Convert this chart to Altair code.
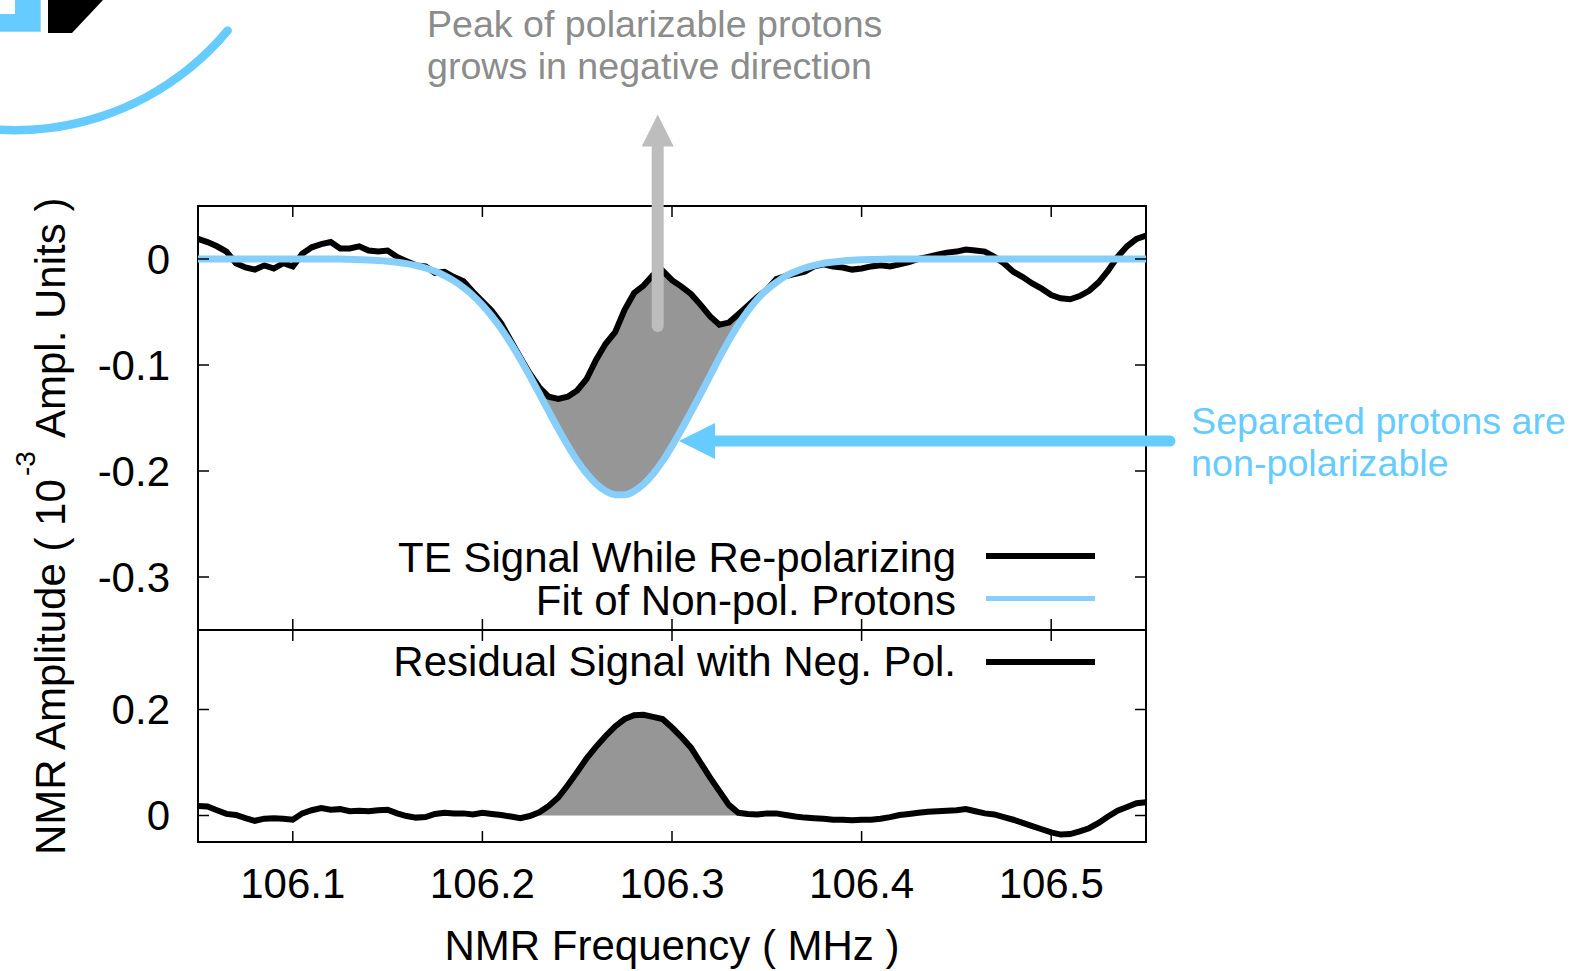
import altair as alt
import pandas as pd

# ---------------- data ----------------
FREQ = [106.050, 106.055, 106.060, 106.065, 106.070, 106.075, 106.080, 106.085, 106.090, 106.095,
        106.100, 106.105, 106.110, 106.115, 106.120, 106.125, 106.130, 106.135, 106.140, 106.145,
        106.150, 106.155, 106.160, 106.165, 106.170, 106.175, 106.180, 106.185, 106.190, 106.195,
        106.200, 106.205, 106.210, 106.215, 106.220, 106.225, 106.230, 106.235, 106.240, 106.245,
        106.250, 106.255, 106.260, 106.265, 106.270, 106.275, 106.280, 106.285, 106.290, 106.295,
        106.300, 106.305, 106.310, 106.315, 106.320, 106.325, 106.330, 106.335, 106.340, 106.345,
        106.350, 106.355, 106.360, 106.365, 106.370, 106.375, 106.380, 106.385, 106.390, 106.395,
        106.400, 106.405, 106.410, 106.415, 106.420, 106.425, 106.430, 106.435, 106.440, 106.445,
        106.450, 106.455, 106.460, 106.465, 106.470, 106.475, 106.480, 106.485, 106.490, 106.495,
        106.500, 106.505, 106.510, 106.515, 106.520, 106.525, 106.530, 106.535, 106.540, 106.545,
        106.550]

TE_SIGNAL = [0.019, 0.016, 0.012, 0.007, -0.004, -0.008, -0.010, -0.006, -0.009, -0.004,
             -0.007, 0.005, 0.011, 0.014, 0.016, 0.010, 0.010, 0.012, 0.008, 0.007,
             0.008, 0.002, -0.002, -0.006, -0.007, -0.013, -0.012, -0.017, -0.021, -0.031,
             -0.040, -0.049, -0.061, -0.077, -0.093, -0.108, -0.121, -0.130, -0.132, -0.130,
             -0.124, -0.113, -0.095, -0.080, -0.069, -0.048, -0.032, -0.025, -0.015, -0.011,
             -0.020, -0.026, -0.033, -0.043, -0.054, -0.062, -0.060, -0.052, -0.044, -0.036,
             -0.029, -0.019, -0.016, -0.014, -0.012, -0.007, -0.005, -0.007, -0.008, -0.010,
             -0.009, -0.007, -0.006, -0.007, -0.005, -0.003, 0.000, 0.002, 0.004, 0.006,
             0.007, 0.009, 0.008, 0.007, 0.002, -0.004, -0.012, -0.017, -0.023, -0.028,
             -0.034, -0.037, -0.038, -0.035, -0.030, -0.022, -0.011, 0.002, 0.012, 0.019,
             0.022]

FIT = [0, 0, 0, 0, 0, 0, 0, 0, 0, 0,
       0, 0, 0, 0, 0, 0, -0.0003, -0.0006, -0.0009, -0.0014,
       -0.0021, -0.0031, -0.0044, -0.0062, -0.0085, -0.0116, -0.0156, -0.0206, -0.0269, -0.0344,
       -0.0435, -0.0540, -0.0661, -0.0797, -0.0945, -0.1104, -0.1269, -0.1437, -0.1603, -0.1759,
       -0.1902, -0.2024, -0.2121, -0.2189, -0.2223, -0.2224, -0.2190, -0.2124, -0.2028, -0.1907,
       -0.1765, -0.1609, -0.1444, -0.1276, -0.1105, -0.0930, -0.0770, -0.0620, -0.0490, -0.0380,
       -0.0290, -0.0220, -0.0160, -0.0120, -0.0085, -0.0060, -0.0040, -0.0028, -0.0018, -0.0012,
       -0.0008, -0.0005, -0.0003, -0.0001, 0, 0, 0, 0, 0, 0,
       0, 0, 0, 0, 0, 0, 0, 0, 0, 0,
       0, 0, 0, 0, 0, 0, 0, 0, 0, 0,
       0]

RESIDUAL = [0.018, 0.017, 0.010, 0.003, 0.001, -0.005, -0.010, -0.006, -0.005, -0.006,
            -0.008, 0.004, 0.010, 0.014, 0.011, 0.012, 0.008, 0.009, 0.008, 0.010,
            0.011, 0.004, -0.001, -0.004, -0.003, 0.003, 0.005, 0.004, 0.004, 0.002,
            0.005, 0.003, 0.001, -0.002, -0.005, -0.001, 0.006, 0.018, 0.034, 0.057,
            0.082, 0.108, 0.130, 0.150, 0.168, 0.182, 0.189, 0.190, 0.186, 0.182,
            0.166, 0.148, 0.128, 0.100, 0.072, 0.046, 0.020, 0.005, 0.003, 0.002,
            0.004, 0.004, 0.001, -0.002, -0.004, -0.005, -0.006, -0.008, -0.008, -0.009,
            -0.008, -0.008, -0.006, -0.003, 0.001, 0.003, 0.005, 0.007, 0.008, 0.009,
            0.010, 0.012, 0.008, 0.004, 0.002, -0.003, -0.008, -0.014, -0.020, -0.026,
            -0.032, -0.036, -0.035, -0.030, -0.024, -0.014, -0.002, 0.009, 0.016, 0.023,
            0.025]

X_TICKS = [106.1, 106.2, 106.3, 106.4, 106.5]
X_LABELS = ["106.1", "106.2", "106.3", "106.4", "106.5"]
TOP_Y_TICKS = [0, -0.1, -0.2, -0.3]
TOP_Y_LABELS = ["0", "-0.1", "-0.2", "-0.3"]
BOT_Y_TICKS = [0, 0.2]
BOT_Y_LABELS = ["0", "0.2"]
X_TITLE = "NMR Frequency ( MHz )"
Y_TITLE_PARTS = ["NMR Amplitude ( 10", "-3", "Ampl. Units )"]
LEGEND_LABELS = ["TE Signal While Re-polarizing", "Fit of Non-pol. Protons",
                 "Residual Signal with Neg. Pol."]
NOTE_GRAY = ["Peak of polarizable protons", "grows in negative direction"]
NOTE_BLUE = ["Separated protons are", "non-polarizable"]
TOP_FILL_RANGE = [106.23, 106.345]
BOT_FILL_RANGE = [106.23, 106.335]

# ---------------- layout / style ----------------
W, H, H_TOP = 948, 636, 424
FONT = "Liberation Sans"
FS = 42
FIT_BLUE = "#87CEFA"
NOTE_BLUE_C = "#66CCFF"
ARROW_GRAY = "#BDBDBD"
TEXT_GRAY = "#8C8C8C"
FILL_GRAY = "#969696"
TICK_LEN = 11

df = pd.DataFrame({"f": FREQ, "sig": TE_SIGNAL, "fit": FIT, "res": RESIDUAL})
df_top_fill = df[(df.f >= TOP_FILL_RANGE[0] - 1e-9) & (df.f <= TOP_FILL_RANGE[1] + 1e-9)]
df_bot_fill = df[(df.f >= BOT_FILL_RANGE[0] - 1e-9) & (df.f <= BOT_FILL_RANGE[1] + 1e-9)]
df_xt = pd.DataFrame({"f": X_TICKS, "lab": X_LABELS})
df_yt_top = pd.DataFrame({"v": TOP_Y_TICKS, "lab": TOP_Y_LABELS})
df_yt_bot = pd.DataFrame({"v": BOT_Y_TICKS, "lab": BOT_Y_LABELS})
one = alt.Data(values=[{"k": 1}])

xs = alt.Scale(domain=[106.05, 106.55], nice=False, zero=False)
ys_top = alt.Scale(domain=[-0.35, 0.05], range=[H_TOP, 0], nice=False, zero=False)
ys_bot = alt.Scale(domain=[-0.05, 0.35], range=[H, H_TOP], nice=False, zero=False)

X = alt.X("f:Q", scale=xs, axis=None)
YT = lambda fld: alt.Y(fld, type="quantitative", scale=ys_top, axis=None)
YB = lambda fld: alt.Y(fld, type="quantitative", scale=ys_bot, axis=None)

def txt(**kw):
    base = dict(font=FONT, fontSize=FS, color="black")
    base.update(kw)
    return base

# ---------------- top panel ----------------
top_fill = alt.Chart(df_top_fill).mark_area(color=FILL_GRAY, opacity=1).encode(
    x=X, y=YT("fit"), y2="sig:Q")
top_sig = alt.Chart(df).mark_line(color="black", strokeWidth=6, strokeJoin="miter").encode(
    x=X, y=YT("sig"))
top_fit = alt.Chart(df).mark_line(color=FIT_BLUE, strokeWidth=7, interpolate="monotone").encode(
    x=X, y=YT("fit"))
top_xt1 = alt.Chart(df_xt).mark_rule(color="black", strokeWidth=1.5).encode(
    x=X, y=alt.value(0), y2=alt.value(TICK_LEN))
top_xt2 = alt.Chart(df_xt).mark_rule(color="black", strokeWidth=1.5).encode(
    x=X, y=alt.value(H_TOP - TICK_LEN), y2=alt.value(H_TOP))
top_yt1 = alt.Chart(df_yt_top).mark_rule(color="black", strokeWidth=1.5).encode(
    y=YT("v"), x=alt.value(0), x2=alt.value(TICK_LEN))
top_yt2 = alt.Chart(df_yt_top).mark_rule(color="black", strokeWidth=1.5).encode(
    y=YT("v"), x=alt.value(W - TICK_LEN), x2=alt.value(W))
top_ylab = alt.Chart(df_yt_top).mark_text(**txt(align="right", baseline="middle", dy=2)).encode(
    y=YT("v"), x=alt.value(-28), text="lab:N")
top = alt.layer(top_fill, top_sig, top_fit, top_xt1, top_xt2, top_yt1, top_yt2, top_ylab)

# ---------------- bottom panel ----------------
bot_fill = alt.Chart(df_bot_fill).mark_area(color=FILL_GRAY, opacity=1).encode(
    x=X, y=YB("res"), y2=alt.datum(0))
bot_res = alt.Chart(df).mark_line(color="black", strokeWidth=6, strokeJoin="miter").encode(
    x=X, y=YB("res"))
bot_xt1 = alt.Chart(df_xt).mark_rule(color="black", strokeWidth=1.5).encode(
    x=X, y=alt.value(H_TOP), y2=alt.value(H_TOP + TICK_LEN))
bot_xt2 = alt.Chart(df_xt).mark_rule(color="black", strokeWidth=1.5).encode(
    x=X, y=alt.value(H - TICK_LEN), y2=alt.value(H))
bot_yt1 = alt.Chart(df_yt_bot).mark_rule(color="black", strokeWidth=1.5).encode(
    y=YB("v"), x=alt.value(0), x2=alt.value(TICK_LEN))
bot_yt2 = alt.Chart(df_yt_bot).mark_rule(color="black", strokeWidth=1.5).encode(
    y=YB("v"), x=alt.value(W - TICK_LEN), x2=alt.value(W))
bot_ylab = alt.Chart(df_yt_bot).mark_text(**txt(align="right", baseline="middle", dy=1)).encode(
    y=YB("v"), x=alt.value(-28), text="lab:N")
xlab = alt.Chart(df_xt).mark_text(**txt(align="center", baseline="top")).encode(
    x=X, y=alt.value(H + 23), text="lab:N")
bottom = alt.layer(bot_fill, bot_res, bot_xt1, bot_xt2, bot_yt1, bot_yt2, bot_ylab, xlab)

# ---------------- axis titles, divider, legend ----------------
x_title = alt.Chart(one).mark_text(**txt(align="center", baseline="alphabetic", text=X_TITLE)).encode(
    x=alt.value(W / 2), y=alt.value(H + 118))
# y title: main text, superscript exponent, remainder (rotated, reading upward)
y_title_a = alt.Chart(one).mark_text(**txt(align="left", baseline="alphabetic", angle=270,
                                           text=Y_TITLE_PARTS[0])).encode(
    x=alt.value(-133), y=alt.value(649))
y_title_b = alt.Chart(one).mark_text(**txt(align="left", baseline="alphabetic", angle=270,
                                           fontSize=28, text=Y_TITLE_PARTS[1])).encode(
    x=alt.value(-163), y=alt.value(270))
y_title_c = alt.Chart(one).mark_text(**txt(align="left", baseline="alphabetic", angle=270,
                                           text=Y_TITLE_PARTS[2])).encode(
    x=alt.value(-133), y=alt.value(232))
divider = alt.Chart(one).mark_rule(color="black", strokeWidth=2).encode(
    x=alt.value(0), x2=alt.value(W), y=alt.value(H_TOP))

def legend_entry(label, color, sw, y_line, y_text):
    t = alt.Chart(one).mark_text(**txt(align="right", baseline="alphabetic", text=label)).encode(
        x=alt.value(758), y=alt.value(y_text))
    r = alt.Chart(one).mark_rule(color=color, strokeWidth=sw).encode(
        x=alt.value(788), x2=alt.value(897), y=alt.value(y_line))
    return [t, r]

legend = (legend_entry(LEGEND_LABELS[0], "black", 6, 350, 366)
          + legend_entry(LEGEND_LABELS[1], FIT_BLUE, 5, 392.5, 409)
          + legend_entry(LEGEND_LABELS[2], "black", 6, 456, 470))

# ---------------- annotations ----------------
gray_text = alt.Chart(one).mark_text(align="left", baseline="alphabetic", font=FONT, fontSize=37.6,
                                     color=TEXT_GRAY, lineHeight=42.6, text=NOTE_GRAY).encode(
    x=alt.value(229), y=alt.value(-169.3))
gray_shaft = alt.Chart(one).mark_rule(color=ARROW_GRAY, strokeWidth=12, strokeCap="round").encode(
    x=alt.value(459.7), y=alt.value(-62), y2=alt.value(120))
gray_head = alt.Chart(one).mark_point(shape="M0,-1L1,1L-1,1Z", filled=True, size=1024,
                                      color=ARROW_GRAY, opacity=1, strokeWidth=0).encode(
    x=alt.value(459.7), y=alt.value(-75.5))

blue_text = alt.Chart(one).mark_text(align="left", baseline="alphabetic", font=FONT, fontSize=37.7,
                                     color=NOTE_BLUE_C, lineHeight=41.5, text=NOTE_BLUE).encode(
    x=alt.value(993), y=alt.value(228))
blue_shaft = alt.Chart(one).mark_rule(color=NOTE_BLUE_C, strokeWidth=11, strokeCap="round").encode(
    x=alt.value(510), x2=alt.value(972), y=alt.value(235))
blue_head = alt.Chart(one).mark_point(shape="M-1,0L1,-1L1,1Z", filled=True, size=1296,
                                      color=NOTE_BLUE_C, opacity=1, strokeWidth=0).encode(
    x=alt.value(499), y=alt.value(235))

# logo fragments in the top-left corner
logo_sq = alt.Chart(one).mark_rect(color=NOTE_BLUE_C).encode(
    x=alt.value(-210), x2=alt.value(-157.3), y=alt.value(-220), y2=alt.value(-174.3))
logo_sq_in = alt.Chart(one).mark_rect(color="white").encode(
    x=alt.value(-210), x2=alt.value(-183), y=alt.value(-220), y2=alt.value(-192))
logo_black = alt.Chart(one).mark_point(shape="M-1,-1L1,-1L-0.127,0.2L-1,0.2Z", filled=True,
                                       size=3025, color="black", opacity=1, strokeWidth=0).encode(
    x=alt.value(-122.5), y=alt.value(-178.5))
logo_arc = alt.Chart(one).mark_arc(theta=2.2515, theta2=3.8, radius=281.5, radius2=273,
                                   cornerRadius=4, color=NOTE_BLUE_C).encode(
    x=alt.value(-183.2), y=alt.value(-353))

chart = alt.layer(
    top, bottom, divider, x_title, y_title_a, y_title_b, y_title_c, *legend,
    gray_shaft, gray_head, gray_text, blue_shaft, blue_head, blue_text,
    logo_sq, logo_sq_in, logo_black, logo_arc,
).resolve_scale(y="independent").properties(
    width=W, height=H,
    padding={"left": 198, "top": 206, "right": 439, "bottom": 129},
    autosize=alt.AutoSizeParams(type="none"),
    background="white",
).configure_view(stroke="black", strokeWidth=2)

chart.save("out.html", embed_options={"renderer": "svg", "actions": False})
